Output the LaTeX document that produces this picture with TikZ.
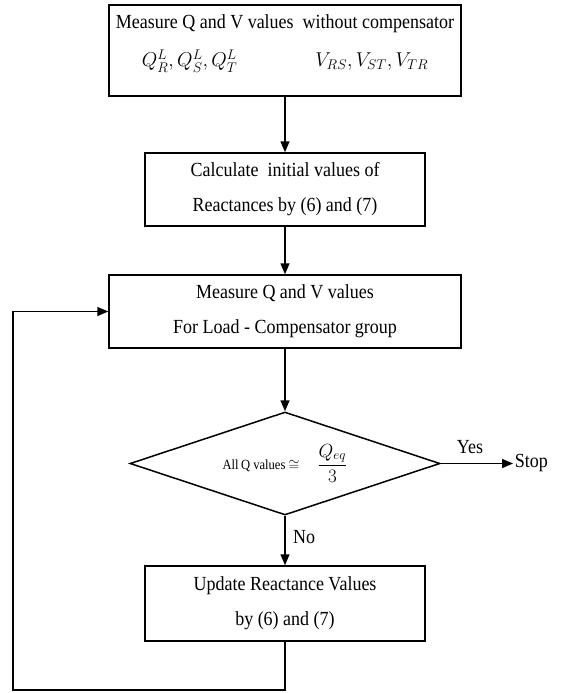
\documentclass[tikz,border=0pt]{standalone}
\usepackage{fix-cm}
\usepackage{amsmath}
\usepackage{fontspec}
\setmainfont{Liberation Serif}[FakeStretch=0.9]
\usepackage{tikz}
\usetikzlibrary{shapes.geometric,arrows.meta}
\tikzset{every picture/.style={line width=1.5pt}}
\tikzset{
  procbox/.style={draw, rectangle, align=center, inner sep=0pt, font=\fontsize{20}{35}\selectfont},
  decision/.style={draw, diamond, aspect=3, inner sep=0pt, minimum width=310pt, minimum height=103pt},
  flowline/.style={-{Triangle[length=11pt,width=9pt]}},
  flowlabel/.style={inner sep=1pt, font=\fontsize{20}{22}\selectfont}
}

\begin{document}
\begin{tikzpicture}[x=1pt,y=1pt,yscale=-1,xscale=1]
\useasboundingbox (0,0) rectangle (562,693);

%Flowchart: Process [id:measnoc]
\node [procbox, minimum width=352pt, minimum height=91pt, text depth=20pt] (measnoc) at (285,50.5) {Measure Q and V values~ without compensator\\[3pt]$Q^L_R,Q^L_S,Q^L_T$\hspace{78pt}$V_{RS},V_{ST},V_{TR}$};
%Flowchart: Process [id:initx]
\node [procbox, minimum width=280pt, minimum height=73pt] (initx) at (285,189.5) {Calculate~ initial values of\\Reactances by (6) and (7)};
%Flowchart: Process [id:measgrp]
\node [procbox, minimum width=352pt, minimum height=73pt] (measgrp) at (285,311.5) {Measure Q and V values\\For Load - Compensator group};
%Flowchart: Decision [id:test]
\node [decision] (test) at (285,463.5) {{\fontsize{14}{16}\selectfont All\,Q values\ $\cong$}\hspace{18pt}{\fontsize{19}{22}\selectfont$\dfrac{Q_{eq}}{3}$}};
%Flowchart: Process [id:update]
\node [procbox, minimum width=280pt, minimum height=75pt] (update) at (285,603.5) {Update Reactance Values\\by (6) and (7)};

%Text nodes
\node [flowlabel, anchor=west] (stop) at (513,463.5) {Stop};
\node [flowlabel] (yes) at (470,447) {Yes};
\node [flowlabel] (no) at (304,537) {No};
\coordinate (loopcorner) at (13,690);

%Straight Lines
\draw [flowline] (measnoc) -- (initx);
\draw [flowline] (initx) -- (measgrp);
\draw [flowline] (measgrp) -- (test);
\draw [flowline] (test) -- (update);
\draw [flowline] (test.east) -- (stop.west);
\draw [flowline] (update.south) |- (loopcorner) |- (measgrp.west);
\end{tikzpicture}
\end{document}
